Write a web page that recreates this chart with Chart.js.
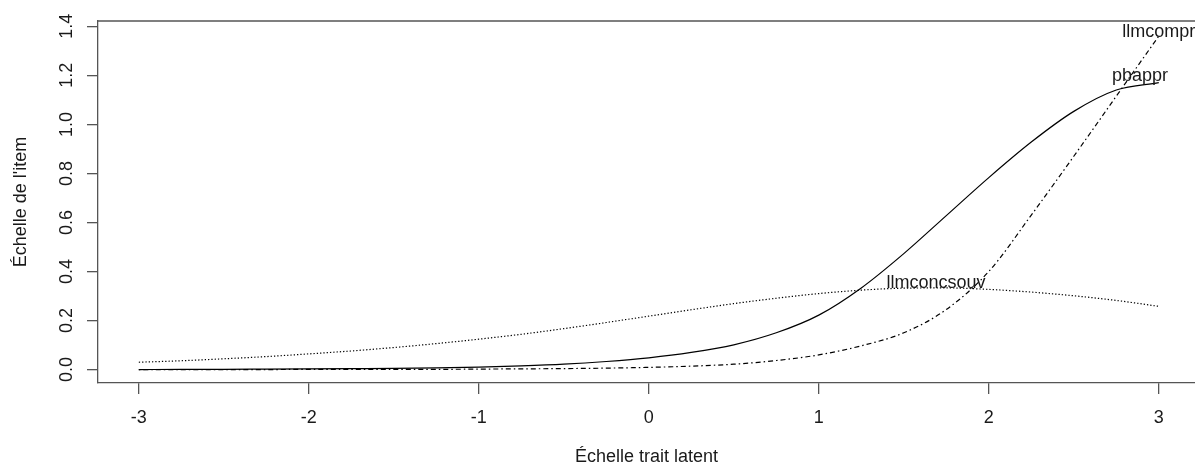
<!DOCTYPE html>
<html>
<head>
<meta charset="utf-8">
<script src="https://cdn.jsdelivr.net/npm/chart.js@4/dist/chart.umd.min.js"></script>
<style>
  html, body { margin: 0; padding: 0; background: #fff; overflow: hidden; }
</style>
</head>
<body>
<canvas id="chart" width="1195" height="468"></canvas>
<script>
// latent trait grid and the three expected item curves
const theta = [-3, -2.75, -2.5, -2.25, -2, -1.75, -1.5, -1.25, -1, -0.75, -0.5, -0.25, 0,
               0.25, 0.5, 0.75, 1, 1.25, 1.5, 1.75, 2, 2.25, 2.5, 2.75, 3];
const pbappr = [0.000, 0.001, 0.001, 0.002, 0.003, 0.004, 0.005, 0.007, 0.010, 0.015, 0.022, 0.033, 0.048,
                0.070, 0.101, 0.150, 0.222, 0.333, 0.473, 0.628, 0.783, 0.928, 1.053, 1.140, 1.170];
const llmcompr = [0.000, 0.000, 0.000, 0.000, 0.001, 0.001, 0.001, 0.001, 0.002, 0.003, 0.004, 0.006, 0.009,
                  0.014, 0.022, 0.037, 0.060, 0.097, 0.150, 0.245, 0.400, 0.630, 0.870, 1.115, 1.360];
const llmconcsouv = [0.030, 0.036, 0.044, 0.053, 0.064, 0.076, 0.090, 0.106, 0.124, 0.144, 0.167, 0.192, 0.218,
                     0.244, 0.269, 0.291, 0.310, 0.324, 0.332, 0.333, 0.327, 0.316, 0.301, 0.282, 0.258];

const xTicks = [-3, -2, -1, 0, 1, 2, 3];
const yTicks = [0, 0.2, 0.4, 0.6, 0.8, 1.0, 1.2, 1.4];

// curve names written on the plot, at data coordinates
const curveNames = ['pbappr', 'llmcompr', 'llmconcsouv'];
const nameX = [2.89, 3.0, 1.69];
const nameY = [1.197, 1.376, 0.355];

const FONT = "'Liberation Sans', Arial, sans-serif";
const AXIS = '#555';
const TEXT = '#1a1a1a';

const toPoints = vals => theta.map((t, i) => ({ x: t, y: vals[i] }));

// top edge of the box, rotated y labels (R style) and curve names
const rExtras = {
  id: 'rExtras',
  afterDraw(chart) {
    const { ctx, chartArea: a, scales: { x, y } } = chart;
    ctx.save();
    ctx.strokeStyle = AXIS;
    ctx.lineWidth = 1.3;
    ctx.beginPath();
    ctx.moveTo(a.left, a.top);
    ctx.lineTo(a.right, a.top);
    ctx.stroke();

    ctx.font = `18px ${FONT}`;
    ctx.fillStyle = TEXT;
    ctx.textAlign = 'center';
    ctx.textBaseline = 'middle';
    yTicks.forEach(v => {
      ctx.save();
      ctx.translate(y.left + 67, y.getPixelForValue(v));
      ctx.rotate(-Math.PI / 2);
      ctx.fillText(v.toFixed(1), 0, 0);
      ctx.restore();
    });
    curveNames.forEach((n, i) => {
      ctx.fillText(n, x.getPixelForValue(nameX[i]), y.getPixelForValue(nameY[i]));
    });
    ctx.restore();
  }
};

const line = (label, vals, dash) => ({
  label: label,
  data: toPoints(vals),
  borderColor: '#000',
  borderWidth: 1.2,
  borderDash: dash,
  pointRadius: 0,
  cubicInterpolationMode: 'monotone',
  fill: false
});

new Chart(document.getElementById('chart'), {
  type: 'line',
  data: {
    datasets: [
      line('pbappr', pbappr, []),
      line('llmcompr', llmcompr, [1.5, 3, 5, 3]),
      line('llmconcsouv', llmconcsouv, [1.3, 2])
    ]
  },
  options: {
    responsive: false,
    animation: false,
    devicePixelRatio: 1,
    layout: { padding: { top: 21, right: 0, bottom: 0, left: 0 } },
    plugins: {
      legend: { display: false },
      tooltip: { enabled: false }
    },
    scales: {
      x: {
        type: 'linear',
        min: -3.24,
        max: 3.213,
        afterBuildTicks: s => { s.ticks = xTicks.map(v => ({ value: v })); },
        afterFit: s => { s.height = 85; },
        grid: { drawOnChartArea: false, drawTicks: true, tickLength: 11, color: AXIS, lineWidth: 1.3 },
        border: { display: true, color: AXIS, width: 1.3 },
        ticks: {
          font: { family: FONT, size: 18 },
          color: TEXT,
          padding: 13,
          maxRotation: 0,
          callback: v => String(v)
        },
        title: {
          display: true,
          text: 'Échelle trait latent',
          font: { family: FONT, size: 18 },
          color: TEXT,
          padding: { top: 0, bottom: 0 }
        }
      },
      y: {
        type: 'linear',
        min: -0.0547,
        max: 1.4216,
        afterBuildTicks: s => { s.ticks = yTicks.map(v => ({ value: v })); },
        afterFit: s => { s.width = 98; },
        grid: { drawOnChartArea: false, drawTicks: true, tickLength: 11, color: AXIS, lineWidth: 1.3 },
        border: { display: true, color: AXIS, width: 1.3 },
        ticks: { display: false },
        title: {
          display: true,
          text: "Échelle de l'item",
          font: { family: FONT, size: 18 },
          color: TEXT,
          padding: { top: 10, bottom: 0 }
        }
      }
    }
  },
  plugins: [rExtras]
});
</script>
</body>
</html>
